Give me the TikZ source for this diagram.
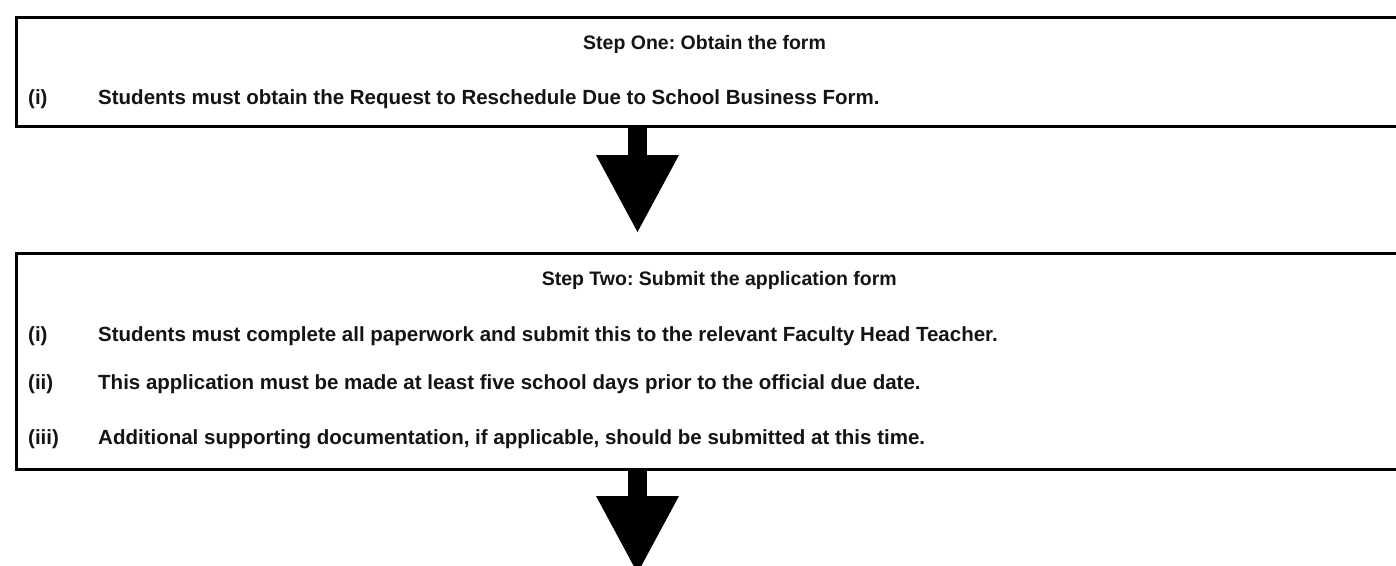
\documentclass[tikz,border=0pt]{standalone}
\usepackage{fontspec}
\setmainfont{Liberation Sans}
\usetikzlibrary{arrows.meta,calc}
\frenchspacing
\begin{document}
\begin{tikzpicture}[x=1pt,y=1pt,
  stepbox/.style={draw=black,line width=3pt,rectangle,inner sep=0pt,anchor=north west,minimum width=1400pt},
  txt/.style={font=\bfseries\fontsize{20.5}{23}\selectfont,inner sep=0pt,anchor=base west,text=black!92},
  ttl/.style={txt,font=\bfseries\fontsize{19.5}{22}\selectfont},
  flow/.style={line width=19pt,-{Triangle[width=83pt,length=77pt,line width=0pt]}}]
\clip (0,0) rectangle (1396,-565);
\useasboundingbox (0,0) rectangle (1396,-565);
\fill[white] (0,0) rectangle (1396,-565);
\node[stepbox,minimum height=109pt] (box1) at (15,-16) {};
\node[stepbox,minimum height=216pt] (box2) at (15,-252) {};
\coordinate (ax) at (637.5,0);
\coordinate (end2) at (637.5,-573);
% box 1 texts
\node[ttl] (t1) at (583,-49) {Step One: Obtain the form};
\node[txt] (l1a) at (28,-104) {(i)};
\node[txt] (l1b) at (98,-104) {Students must obtain the Request to Reschedule Due to School Business Form.};
% box 2 texts
\node[ttl,anchor=base east] (t2) at (897,-285) {Step Two: Submit the application form};
\node[txt] (l2a) at (28,-341) {(i)};
\node[txt] (l2b) at (98,-341) {Students must complete all paperwork and submit this to the relevant Faculty Head Teacher.};
\node[txt] (l3a) at (28,-389) {(ii)};
\node[txt] (l3b) at (98,-389) {This application must be made at least five school days prior to the official due date.};
\node[txt] (l4a) at (28,-444) {(iii)};
\node[txt] (l4b) at (98,-444) {Additional supporting documentation, if applicable, should be submitted at this time.};
% arrows
\draw[flow] (box1.south -| ax) -- ($(box2.north -| ax)+(0,20)$);
\draw[flow] (box2.south -| ax) -- (end2);
\end{tikzpicture}
\end{document}
